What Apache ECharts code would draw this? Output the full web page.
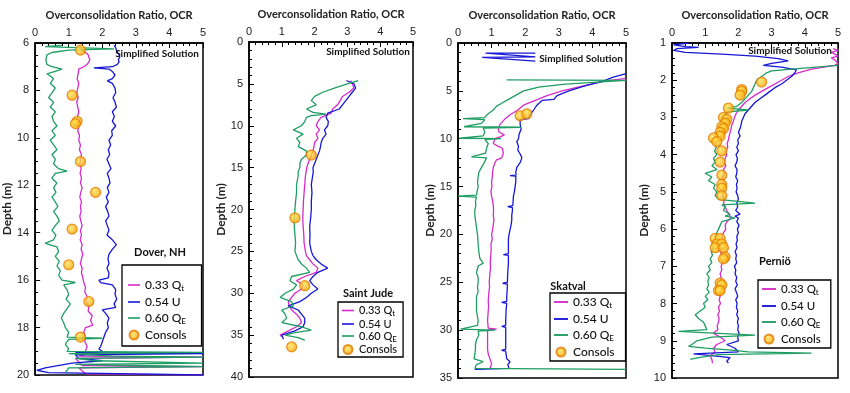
<!DOCTYPE html>
<html><head><meta charset="utf-8">
<script src="https://cdn.jsdelivr.net/npm/echarts@6/dist/echarts.min.js"></script>
<style>html,body{margin:0;padding:0;background:#fff}#c{width:850px;height:393px}</style>
</head><body><div id="c"></div>
<script>
// ---------- DATA: [depth (m), OCR] ----------
const doverQt = [[6.1,1.3],[6.2,1.35],[6.3,1.42],[6.4,1.5],[6.5,1.58],[6.6,1.6],[6.7,1.63],[6.8,1.6],[6.9,1.55],[7.0,1.45],[7.1,1.3],[7.3,1.28],[7.5,1.25],[7.7,1.3],[7.9,1.27],[8.1,1.24],[8.3,1.28],[8.5,1.24],[8.7,1.27],[8.9,1.3],[9.1,1.26],[9.3,1.28],[9.5,1.3],[9.7,1.27],[9.9,1.32],[10.1,1.3],[10.3,1.35],[10.5,1.32],[10.7,1.38],[10.9,1.35],[11.1,1.33],[11.3,1.37],[11.5,1.34],[11.7,1.38],[11.9,1.35],[12.1,1.4],[12.3,1.36],[12.5,1.33],[12.7,1.38],[12.9,1.35],[13.1,1.37],[13.3,1.33],[13.5,1.36],[13.7,1.4],[13.9,1.35],[14.1,1.38],[14.3,1.34],[14.5,1.4],[14.7,1.37],[14.9,1.42],[15.1,1.38],[15.3,1.35],[15.5,1.4],[15.7,1.38],[15.9,1.42],[16.1,1.45],[16.3,1.5],[16.5,1.48],[16.7,1.55],[16.9,1.52],[17.1,1.6],[17.3,1.58],[17.5,1.7],[17.7,1.65],[17.9,1.72],[18.0,1.5],[18.2,1.45],[18.4,1.5],[18.6,1.48],[18.8,1.55],[19.0,1.5],[19.1,1.6],[19.2,1.3],[19.25,5],[19.3,1.2],[19.6,1.4],[19.65,5],[19.7,1.3],[19.95,1.5],[20.0,5]];
const doverU = [[6.1,2.35],[6.2,2.4],[6.3,2.42],[6.4,2.46],[6.5,2.5],[6.6,2.52],[6.7,2.48],[6.8,2.5],[6.9,2.45],[7.0,2.3],[7.05,1.75],[7.1,2.2],[7.2,2.3],[7.35,2.38],[7.5,2.3],[7.6,2.15],[7.7,2.3],[7.9,2.38],[8.1,2.4],[8.3,2.32],[8.5,2.38],[8.7,2.42],[8.9,2.3],[9.1,2.36],[9.3,2.3],[9.5,2.4],[9.7,2.28],[9.9,2.3],[10.1,2.2],[10.3,2.25],[10.5,2.18],[10.7,2.22],[10.9,2.14],[11.1,2.2],[11.3,2.26],[11.5,2.15],[11.7,2.2],[11.9,2.23],[12.1,2.15],[12.3,2.2],[12.5,2.12],[12.7,2.18],[12.9,2.1],[13.1,2.16],[13.3,2.2],[13.5,2.1],[13.7,2.15],[13.9,2.2],[14.1,2.14],[14.3,2.3],[14.5,2.42],[14.7,2.3],[14.9,2.2],[15.1,2.17],[15.3,2.2],[15.5,2.14],[15.7,2.2],[15.9,2.18],[16.0,1.9],[16.1,1.95],[16.2,2.3],[16.4,2.4],[16.6,2.38],[16.8,2.43],[17.0,2.35],[17.15,2.4],[17.25,2.0],[17.4,2.1],[17.6,2.2],[17.8,2.15],[18.0,2.18],[18.2,2.1],[18.4,2.05],[18.6,2.0],[18.8,1.95],[18.9,1.9],[19.0,2.0],[19.05,1.2],[19.1,5],[19.15,1.2],[19.3,1.3],[19.4,2.0],[19.5,1.1],[19.7,0.3],[19.8,0.05],[19.9,0.4],[20.0,5]];
const doverQE = [[6.1,0.8],[6.15,0.3],[6.25,2.35],[6.3,1.0],[6.4,0.5],[6.5,0.35],[6.7,0.32],[6.9,0.35],[7.0,0.5],[7.1,0.8],[7.2,0.6],[7.3,0.35],[7.5,0.55],[7.7,0.45],[7.9,0.6],[8.1,0.5],[8.3,0.4],[8.5,0.55],[8.7,0.45],[8.9,0.6],[9.1,0.5],[9.3,0.55],[9.5,0.65],[9.7,0.5],[9.9,0.6],[10.1,0.45],[10.3,0.55],[10.5,0.65],[10.7,0.5],[10.9,0.6],[11.1,0.55],[11.3,0.7],[11.4,0.95],[11.5,0.6],[11.7,0.5],[11.9,0.65],[12.1,0.55],[12.3,0.62],[12.5,0.5],[12.7,0.6],[12.9,0.68],[13.1,0.55],[13.3,0.65],[13.5,0.72],[13.7,0.6],[13.9,0.5],[14.1,0.62],[14.3,0.55],[14.45,0.3],[14.6,0.65],[14.8,0.7],[15.0,0.6],[15.2,0.72],[15.4,0.65],[15.6,0.75],[15.8,0.7],[16.0,0.8],[16.1,1.2],[16.2,0.85],[16.4,0.95],[16.6,1.0],[16.8,0.92],[17.0,1.05],[17.2,0.95],[17.4,0.85],[17.6,0.78],[17.8,0.85],[18.0,0.9],[18.2,1.0],[18.4,0.95],[18.45,2.0],[18.5,1.0],[18.7,0.9],[18.9,1.0],[19.0,0.95],[19.05,5],[19.1,1.0],[19.2,2.3],[19.25,5],[19.3,1.2],[19.4,1.8],[19.5,5],[19.55,1.2],[19.65,5],[19.7,1.0],[19.9,0.9]];
const doverConsols = [[6.3,1.35],[8.2,1.1],[9.3,1.25],[9.4,1.2],[11.0,1.35],[12.3,1.8],[13.85,1.1],[15.35,1.0],[16.9,1.6],[18.4,1.35]];

const judeQt = [[4.6,3.1],[5.0,3.15],[5.5,3.2],[6.0,3.05],[6.5,2.85],[7.0,2.78],[7.5,2.7],[8.0,2.55],[8.5,2.5],[9.0,2.2],[9.5,2.1],[10,2.05],[10.5,2.15],[11,2.05],[11.5,2.1],[12,2.0],[12.5,1.98],[13,1.95],[13.5,1.9],[14,1.85],[14.5,1.8],[15,1.76],[15.5,1.74],[16,1.72],[16.5,1.71],[17,1.7],[18,1.68],[19,1.66],[20,1.65],[21,1.64],[22,1.65],[23,1.67],[24,1.68],[25,1.72],[25.5,1.75],[26,1.85],[26.5,1.95],[27,2.1],[27.5,2.05],[28,1.7],[28.5,1.45],[29,1.65],[29.5,1.6],[30,1.4],[30.5,1.3],[31,1.2],[31.5,1.22],[32,1.3],[32.5,1.45],[33,1.55],[33.5,1.6],[34,1.45],[34.5,1.2],[35,0.95],[35.2,1.0]];
const judeU = [[4.6,2.97],[5.0,3.2],[5.5,3.25],[6.0,3.15],[6.5,3.05],[7.0,2.95],[7.5,2.85],[8.0,2.75],[8.5,2.4],[9.0,2.35],[9.5,2.42],[10,2.4],[10.5,2.3],[11,2.35],[11.5,2.25],[12,2.2],[12.5,2.18],[13,2.15],[13.5,2.1],[14,2.05],[14.5,2.0],[15,1.95],[15.5,1.96],[16,1.94],[17,1.9],[18,1.92],[19,1.9],[20,1.9],[21,1.88],[22,1.85],[23,1.86],[24,1.85],[25,1.9],[25.5,1.95],[26,2.05],[26.5,2.2],[27,2.4],[27.5,2.1],[28,1.95],[28.5,1.85],[29,1.95],[29.5,2.1],[30,1.9],[30.5,1.75],[31,1.55],[31.5,1.2],[32,1.5],[32.5,1.6],[33,1.7],[33.5,1.7],[34,1.65],[34.5,1.4],[35,1.0],[35.5,1.05]];
const judeQE = [[4.6,3.33],[5.0,3.0],[5.5,2.6],[6.0,2.25],[6.5,2.0],[7.0,1.9],[7.5,2.05],[8.0,1.75],[8.4,1.95],[8.6,2.35],[8.8,1.9],[9.0,1.75],[9.5,1.7],[10,1.6],[10.5,1.35],[11,1.65],[11.5,1.45],[12,1.55],[12.5,1.5],[13,1.75],[13.5,1.75],[14,1.6],[14.5,1.55],[15,1.55],[15.5,1.5],[16,1.5],[17,1.45],[18,1.45],[19,1.42],[20,1.4],[21,1.38],[22,1.38],[23,1.4],[24,1.42],[25,1.4],[26,1.5],[26.5,1.6],[27,1.75],[27.5,1.85],[28,1.3],[28.5,1.25],[29,1.45],[29.5,1.35],[30,1.1],[30.5,0.95],[31,1.3],[31.5,1.35],[32,1.0],[32.5,1.1],[33,1.15],[33.5,1.0],[34,1.6],[34.4,1.9],[34.7,1.4],[35,1.1],[35.3,1.5],[35.6,1.7]];
const judeConsols = [[13.5,1.9],[21.0,1.4],[29.1,1.7],[36.4,1.3]];

const skatUtop = [[1.05,2.3],[1.05,0.82],[1.1,0.8],[1.45,2.3],[1.5,0.72],[1.55,0.75],[1.9,2.3]];
const skatU = [[3.2,5.0],[3.6,4.6],[4.0,4.3],[4.5,3.75],[5.0,3.3],[5.5,2.95],[5.9,2.85],[6.0,2.5],[6.5,2.35],[7.0,2.25],[7.5,2.15],[7.9,2.1],[8.0,1.85],[8.5,1.85],[9.0,1.88],[9.5,1.82],[10.0,1.8],[10.3,1.75],[10.8,1.8],[11.2,1.78],[11.6,1.85],[12.0,1.9],[12.5,1.85],[13.0,1.75],[13.5,1.72],[13.8,1.73],[13.85,1.55],[13.9,1.72],[14.5,1.72],[15.0,1.7],[15.5,1.68],[16.0,1.65],[16.5,1.64],[17.0,1.63],[17.1,1.48],[17.2,1.62],[17.5,1.62],[18.0,1.6],[18.5,1.6],[19.0,1.58],[19.5,1.55],[20.0,1.52],[20.5,1.5],[21.0,1.5],[21.5,1.5],[22.0,1.5],[22.1,1.35],[22.2,1.5],[23.0,1.5],[24.0,1.48],[25.0,1.47],[25.1,1.33],[25.2,1.47],[26.0,1.46],[26.5,1.45],[27.0,1.45],[27.1,1.3],[27.2,1.45],[28.0,1.43],[29.0,1.42],[29.5,1.42],[29.6,1.3],[29.7,1.42],[30.0,1.42],[31.0,1.42],[32.0,1.42],[32.1,1.3],[32.2,1.42],[33.0,1.45],[33.3,1.55],[33.6,1.48],[34.0,1.52],[34.1,0.5]];
const skatQt = [[3.7,5.0],[4.0,4.3],[4.5,3.7],[5.0,3.1],[5.5,2.65],[6.0,2.3],[6.5,1.95],[7.0,1.78],[7.5,1.55],[8.0,1.38],[8.5,1.25],[9.0,1.2],[9.3,1.22],[9.6,1.38],[9.8,1.25],[10.0,1.1],[10.5,1.05],[10.8,1.2],[11.0,1.32],[11.5,1.35],[12.0,1.3],[12.2,1.15],[12.5,1.1],[13.0,1.05],[13.5,1.03],[14.0,1.02],[14.5,1.0],[15.0,1.01],[15.5,0.98],[16.0,1.0],[16.5,1.03],[17.0,1.05],[17.5,1.06],[18.0,1.05],[18.5,1.07],[19.0,1.05],[19.5,1.03],[20.0,1.0],[20.5,1.02],[21.0,0.98],[21.5,0.99],[22.0,0.98],[22.5,0.97],[23.0,0.96],[23.5,0.97],[24.0,0.95],[24.5,0.94],[25.0,0.93],[25.5,0.94],[26.0,0.92],[26.5,0.91],[27.0,0.9],[27.5,0.91],[28.0,0.9],[28.5,0.89],[29.0,0.88],[29.8,0.9],[29.9,1.15],[30.0,0.88],[31.0,0.88],[32.0,0.88],[32.5,0.9],[33.0,0.95],[33.5,1.0],[34.0,0.95]];
const skatQE = [[3.85,1.45],[3.9,5.0],[4.0,4.5],[4.3,3.2],[4.6,2.4],[5.0,1.95],[5.5,1.7],[6.0,1.45],[6.3,1.3],[6.6,1.15],[7.0,1.05],[7.4,0.9],[7.8,0.78],[7.9,0.15],[8.0,0.8],[8.4,0.7],[8.75,0.18],[8.8,1.87],[8.9,0.75],[9.3,0.8],[9.7,0.75],[9.95,0.05],[10.0,1.28],[10.1,0.8],[10.5,0.9],[11.0,0.85],[11.5,0.82],[11.9,0.4],[12.0,0.85],[12.5,0.78],[13.0,0.7],[13.5,0.62],[14.0,0.6],[14.5,0.58],[15.0,0.6],[15.5,0.57],[15.9,0.55],[16.0,0.0],[16.1,0.55],[16.5,0.52],[17.0,0.53],[17.5,0.5],[18.0,0.5],[18.5,0.52],[19.0,0.54],[19.5,0.56],[20.0,0.58],[21.0,0.6],[21.8,0.62],[22.0,0.6],[22.5,0.65],[23.0,0.75],[23.3,0.6],[24.0,0.55],[24.5,0.6],[25.0,0.6],[25.5,0.58],[26.0,0.6],[26.5,0.55],[27.0,0.55],[28.0,0.55],[29.0,0.6],[29.5,0.58],[29.9,0.08],[30.0,1.1],[30.1,0.6],[30.5,0.62],[31.0,0.55],[31.5,0.52],[32.0,0.52],[32.5,0.5],[33.0,0.48],[33.3,0.75],[33.6,0.55],[34.0,0.5],[34.1,5.0]];
const skatConsols = [[7.6,1.85],[7.4,2.05]];

const perQt = [[1.15,4.85],[1.2,5.0],[1.25,4.8],[1.3,4.9],[1.35,5.0],[1.4,4.8],[1.45,4.9],[1.55,5.0],[1.6,4.9],[1.7,4.2],[1.8,3.8],[1.9,3.5],[2.0,3.3],[2.1,3.1],[2.2,2.9],[2.3,2.7],[2.4,2.5],[2.5,2.35],[2.6,2.2],[2.7,2.1],[2.8,2.0],[2.9,1.93],[3.0,1.88],[3.1,1.85],[3.2,1.8],[3.3,1.78],[3.4,1.75],[3.5,1.72],[3.6,1.7],[3.7,1.66],[3.8,1.68],[3.9,1.62],[4.0,1.65],[4.1,1.6],[4.2,1.58],[4.3,1.62],[4.4,1.55],[4.5,1.58],[4.6,1.52],[4.7,1.55],[4.8,1.58],[4.9,1.53],[5.0,1.56],[5.1,1.52],[5.2,1.58],[5.3,1.55],[5.4,1.6],[5.5,1.65],[5.6,1.72],[5.7,1.78],[5.8,1.65],[5.9,1.6],[6.0,1.62],[6.1,1.55],[6.2,1.5],[6.3,1.53],[6.4,1.48],[6.5,1.5],[6.6,1.46],[6.7,1.5],[6.8,1.47],[6.9,1.52],[7.0,1.48],[7.1,1.5],[7.2,1.45],[7.3,1.48],[7.4,1.44],[7.5,1.47],[7.6,1.43],[7.7,1.48],[7.8,1.45],[7.9,1.42],[8.0,1.46],[8.1,1.4],[8.2,1.43],[8.3,1.38],[8.4,1.42],[8.5,1.4],[8.6,1.36],[8.7,1.38],[8.8,1.25],[8.9,1.45],[9.0,1.6],[9.1,1.35],[9.2,1.25],[9.3,1.3],[9.4,1.15],[9.5,1.2],[9.6,1.22]];
const perU = [[1.0,0.5],[1.05,0.05],[1.1,0.4],[1.12,0.8],[1.15,0.15],[1.2,0.05],[1.25,0.4],[1.3,1.5],[1.35,2.5],[1.42,3.2],[1.48,3.5],[1.55,3.0],[1.6,2.75],[1.65,3.3],[1.72,3.75],[1.8,3.7],[1.9,3.6],[2.0,3.45],[2.1,3.3],[2.2,3.1],[2.3,2.95],[2.4,2.8],[2.5,2.65],[2.6,2.5],[2.7,2.4],[2.8,2.3],[2.9,2.2],[3.0,2.15],[3.1,2.1],[3.2,2.08],[3.3,2.05],[3.4,2.0],[3.5,2.05],[3.6,1.98],[3.7,2.0],[3.8,1.95],[3.9,2.0],[4.0,1.93],[4.1,1.97],[4.2,1.95],[4.3,1.9],[4.4,1.96],[4.5,1.95],[4.6,1.92],[4.7,1.98],[4.8,1.94],[4.9,1.96],[5.0,1.93],[5.1,1.98],[5.2,2.0],[5.3,1.95],[5.4,1.98],[5.5,1.92],[5.6,2.05],[5.65,1.9],[5.7,2.0],[5.8,1.95],[5.9,2.02],[6.0,1.97],[6.1,2.0],[6.2,1.95],[6.3,1.97],[6.4,1.93],[6.5,1.96],[6.6,1.9],[6.7,1.94],[6.8,1.92],[6.9,1.95],[7.0,1.88],[7.1,1.92],[7.2,1.9],[7.3,1.95],[7.4,1.92],[7.5,1.97],[7.6,1.9],[7.7,1.94],[7.8,1.98],[7.9,1.92],[8.0,1.96],[8.1,1.94],[8.2,1.98],[8.3,1.95],[8.4,2.0],[8.5,1.97],[8.6,2.0],[8.7,1.98],[8.8,2.02],[8.9,1.98],[9.0,2.0],[9.1,1.65],[9.2,1.9],[9.3,2.0],[9.35,0.65],[9.4,1.2],[9.45,1.75],[9.55,1.65],[9.6,1.7]];
const perQE = [[1.6,5.0],[1.7,3.6],[1.75,3.0],[1.8,2.85],[1.9,2.7],[2.0,2.55],[2.1,2.5],[2.2,2.45],[2.3,2.4],[2.4,2.3],[2.5,2.2],[2.6,2.1],[2.7,1.95],[2.75,1.65],[2.8,2.3],[2.85,1.7],[2.9,1.6],[3.0,1.55],[3.1,1.5],[3.2,1.45],[3.3,1.42],[3.4,1.38],[3.5,1.4],[3.6,1.35],[3.7,1.3],[3.8,1.33],[3.9,1.28],[4.0,1.35],[4.1,1.25],[4.2,1.3],[4.3,1.2],[4.4,1.35],[4.5,1.0],[4.6,1.2],[4.7,1.1],[4.8,1.3],[4.9,1.25],[5.0,1.35],[5.1,1.3],[5.2,1.4],[5.3,2.5],[5.35,1.5],[5.4,1.6],[5.5,1.55],[5.6,1.75],[5.65,1.6],[5.7,1.9],[5.8,1.5],[5.9,1.45],[6.0,1.4],[6.1,1.35],[6.2,1.3],[6.3,1.28],[6.4,1.22],[6.5,1.25],[6.6,1.18],[6.7,1.22],[6.8,1.15],[6.9,1.2],[7.0,1.1],[7.1,1.15],[7.2,1.05],[7.3,1.12],[7.4,1.08],[7.5,1.1],[7.6,1.05],[7.7,1.12],[7.8,1.0],[7.9,1.08],[8.0,0.95],[8.1,1.0],[8.2,0.85],[8.3,0.7],[8.4,0.8],[8.5,0.95],[8.6,1.0],[8.7,1.05],[8.75,0.2],[8.8,1.4],[8.85,2.5],[8.9,1.2],[9.0,0.75],[9.1,0.6],[9.15,0.5],[9.2,1.0],[9.25,1.8],[9.3,2.3],[9.33,4.2],[9.37,1.4],[9.45,0.8],[9.5,0.55]];
const perConsols = [[2.05,2.7],[2.25,2.1],[2.3,2.1],[2.4,2.05],[2.75,1.7],[3.0,1.55],[3.05,1.65],[3.15,1.6],[3.25,1.5],[3.3,1.55],[3.4,1.45],[3.5,1.45],[3.55,1.25],[3.65,1.35],[3.9,1.5],[4.2,1.45],[4.55,1.5],[4.8,1.5],[4.9,1.5],[5.1,1.5],[6.25,1.3],[6.25,1.45],[6.4,1.35],[6.4,1.5],[6.5,1.3],[6.5,1.55],[6.75,1.6],[6.8,1.55],[7.45,1.45],[7.5,1.5],[7.65,1.4],[7.65,1.45]];

const siteNames = ['Dover, NH','Saint Jude','Skatval','Perniö'];
const depthRanges = [[6,20,2],[0,40,5],[0,35,5],[1,10,1]];
const ocrRange = [0,5,1];
const seriesNames = ['0.33 Qt','0.54 U','0.60 QE','Consols'];

// ---------- LAYOUT / STYLE ----------
const FONT = 'Lato, "Open Sans", sans-serif';
const COLORS = {qt:'#D52BCB', u:'#1717D6', qe:'#1E9E62'};
const grids = [
  {left:35, top:43, width:168, height:332},
  {left:249, top:42, width:164, height:335},
  {left:458, top:43, width:168, height:335},
  {left:672, top:43, width:166, height:335}
];
const legendPos = [
  {left:122, top:265, itemGap:4, padding:[14,15,5,6], itemWidth:12, fontSize:12},
  {left:338, top:302, itemGap:1, padding:[3,6,2,4], itemWidth:12, fontSize:11},
  {left:550, top:293, itemGap:4, padding:[3,11,3,4], itemWidth:14, fontSize:12},
  {left:758, top:280, itemGap:4, padding:[3,10,3,4], itemWidth:14, fontSize:11.5}
];
const headerPos = [[160,252],[368,293],[568,286],[775,261]];
const simpPos = [[157,54],[368,52],[581,59],[790,51]];

const toXY = arr => arr.map(p => [p[1], p[0]]);
const panels = [
  {qt:doverQt, u:[doverU], qe:doverQE, c:doverConsols},
  {qt:judeQt, u:[judeU], qe:judeQE, c:judeConsols},
  {qt:skatQt, u:[skatUtop, skatU], qe:skatQE, c:skatConsols},
  {qt:perQt, u:[perU], qe:perQE, c:perConsols}
];

const LINE_ICON = 'path://M0,0 L30,0 L30,4 L0,4 Z';
const grid = [], xAxis = [], yAxis = [], series = [], legend = [], graphic = [];
const consolStyle = {
  color:{type:'radial', x:0.4, y:0.4, r:0.6, colorStops:[{offset:0,color:'#FFE45A'},{offset:1,color:'#F5A300'}]},
  borderColor:'#E37A00', borderWidth:1.2
};
panels.forEach((p, i) => {
  grid.push(Object.assign({show:true, borderColor:'#000', borderWidth:1.5, backgroundColor:'#fff'}, grids[i]));
  xAxis.push({
    gridIndex:i, type:'value', position:'top', min:ocrRange[0], max:ocrRange[1], interval:ocrRange[2],
    name:'Overconsolidation Ratio, OCR', nameLocation:'middle', nameGap:22,
    nameTextStyle:{fontFamily:FONT, fontWeight:'bold', fontSize:11, color:'#222'},
    axisLine:{show:true, lineStyle:{color:'#000', width:1.5}},
    axisTick:{show:true, inside:true, length:5, lineStyle:{color:'#000'}},
    minorTick:{show:true, splitNumber:5, length:3, lineStyle:{color:'#000'}},
    axisLabel:{fontFamily:'"Liberation Sans", Arial, sans-serif', fontSize:11, color:'#222', margin:5},
    splitLine:{show:false}
  });
  const dr = depthRanges[i];
  yAxis.push({
    gridIndex:i, type:'value', inverse:true, min:dr[0], max:dr[1], interval:dr[2],
    name:'Depth (m)', nameLocation:'middle', nameGap:20, nameRotate:90,
    nameTextStyle:{fontFamily:FONT, fontWeight:'bold', fontSize:12, color:'#222'},
    axisLine:{show:true, lineStyle:{color:'#000', width:1.5}},
    axisTick:{show:true, inside:true, length:5, lineStyle:{color:'#000'}},
    minorTick:{show:true, splitNumber:dr[2]===2?4:5, length:3, lineStyle:{color:'#000'}},
    axisLabel:{fontFamily:'"Liberation Sans", Arial, sans-serif', fontSize:11, color:'#222', margin:6},
    splitLine:{show:false}
  });
  const line = (name, data, color) => ({
    name, type:'line', xAxisIndex:i, yAxisIndex:i, data:toXY(data), symbol:'none',
    lineStyle:{color, width:1.3}, itemStyle:{color}, animation:false, clip:true
  });
  series.push(line(seriesNames[0], p.qt, COLORS.qt));
  p.u.forEach(u => series.push(line(seriesNames[1], u, COLORS.u)));
  series.push(line(seriesNames[2], p.qe, COLORS.qe));
  series.push({name:seriesNames[3], type:'scatter', xAxisIndex:i, yAxisIndex:i, data:toXY(p.c),
    symbol:'circle', symbolSize:10, itemStyle:consolStyle, animation:false, z:5});
  const lp = legendPos[i];
  legend.push({
    orient:'vertical', left:lp.left, top:lp.top, itemGap:lp.itemGap, padding:lp.padding,
    backgroundColor:'#fff', borderColor:'#000', borderWidth:1.3,
    itemWidth:lp.itemWidth, itemHeight:9, symbolKeepAspect:true,
    data:seriesNames.map(n => n==='Consols' ? {name:n, icon:'circle'} : {name:n, icon:LINE_ICON}),
    selectedMode:false,
    formatter: n => n==='0.33 Qt' ? '0.33 Q{sub|t}' : (n==='0.60 QE' ? '0.60 Q{sub|E}' : n),
    textStyle:{fontFamily:FONT, fontSize:lp.fontSize, color:'#111', fontWeight:500,
      rich:{sub:{fontFamily:FONT, fontSize:8, color:'#111', padding:[6,0,0,0]}}}
  });
  graphic.push({type:'text', z:100, style:{text:siteNames[i], x:headerPos[i][0], y:headerPos[i][1], align:'center', verticalAlign:'middle', font:'bold 11px '+FONT, fill:'#111'}});
  graphic.push({type:'text', z:100, style:{text:'Simplified Solution', x:simpPos[i][0], y:simpPos[i][1], align:'center', verticalAlign:'middle', font:'bold 10px '+FONT, fill:'#111'}});
});

const chart = echarts.init(document.getElementById('c'), null, {renderer:'canvas'});
chart.setOption({animation:false, backgroundColor:'#fff', grid, xAxis, yAxis, series, legend, graphic});
</script></body></html>
